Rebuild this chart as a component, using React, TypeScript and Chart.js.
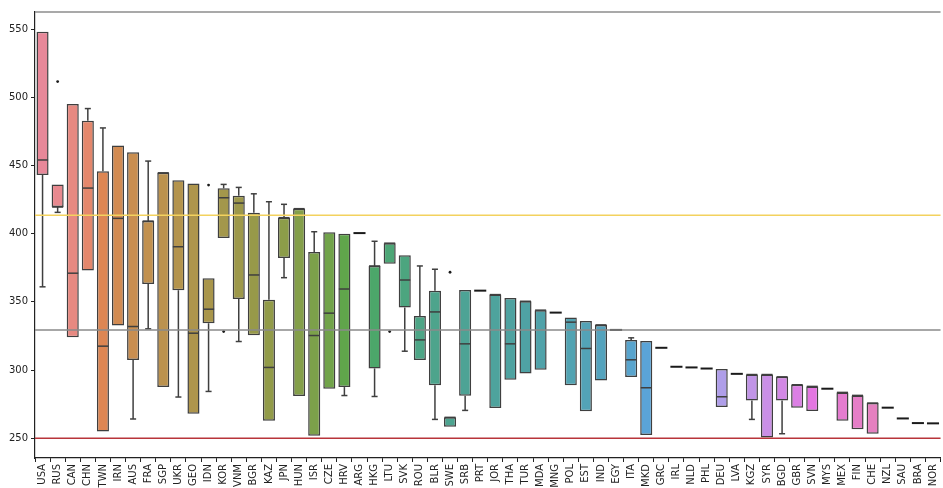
import React, { useEffect, useRef } from "react";
import { Chart, registerables } from "chart.js";

Chart.register(...registerables);

const categories = ["USA","RUS","CAN","CHN","TWN","IRN","AUS","FRA","SGP","UKR","GEO","IDN","KOR","VNM","BGR","KAZ","JPN","HUN","ISR","CZE","HRV","ARG","HKG","LTU","SVK","ROU","BLR","SWE","SRB","PRT","JOR","THA","TUR","MDA","MNG","POL","EST","IND","EGY","ITA","MKD","GRC","IRL","NLD","PHL","DEU","LVA","KGZ","SYR","BGD","GBR","SVN","MYS","MEX","FIN","CHE","NZL","SAU","BRA","NOR"];

const whiskerLow = [361,415.6,324,373,255,332.6,264.1,330.2,287.5,280.2,268,284.3,396.8,320.9,325.5,262.8,367.7,280.9,251.9,286.3,281.3,400.4,280.6,378,313.8,307.3,263.8,258.4,270.4,358.2,272.1,292.8,297.5,300.2,342.1,288.9,269.7,292.3,329.4,294.8,252.4,316.3,302.4,301.9,301.1,272.9,297.2,263.8,250.6,253.3,272.4,270,286.3,262.8,256.6,253.3,272.4,264.5,261.1,260.9];
const q1 = [443,419.5,324,373,255,332.6,307.3,363.1,287.5,358.5,268,334.3,396.8,352.1,325.5,262.8,382.1,280.9,251.9,286.3,287.5,400.4,301.2,378,345.8,307.3,288.9,258.4,281.1,358.2,272.1,292.8,297.5,300.2,342.1,288.9,269.7,292.3,329.4,294.8,252.4,316.3,302.4,301.9,301.1,272.9,297.2,277.7,250.6,277.7,272.4,270,286.3,262.8,256.6,253.3,272.4,264.5,261.1,260.9];
const medians = [454,419.5,371,433.4,317.5,411.2,331.9,409.2,444.6,390.4,327,344.6,426.3,422.4,369.7,301.9,411.7,418.3,325.3,341.7,359.4,400.4,376.3,393,366,322.1,342.6,265.3,319.2,358.2,355.3,319.2,350.4,343.9,342.1,335.1,315.8,333.1,329.4,307.5,287,316.3,302.4,301.9,301.1,280.4,297.2,296.7,296.7,295,289.2,288,286.3,283.6,281.4,275.8,272.4,264.5,261.1,260.9];
const q3 = [548,436,495,482.7,445.8,464.6,459.7,409.2,444.6,439.2,436.8,367.3,433.2,427.8,415.3,351.6,411.7,418.3,386.5,401,399.9,400.4,376.3,393,384.1,339.7,358.2,265.3,358.7,358.2,355.3,352.9,350.4,343.9,342.1,338.5,336,333.1,329.4,322.1,321.2,316.3,302.4,301.9,301.1,300.7,297.2,296.7,296.7,295,289.2,288,286.3,283.6,281.4,275.8,272.4,264.5,261.1,260.9];
const whiskerHigh = [548,436,495,491.7,477.5,464.6,459.7,453.2,444.6,439.2,436.8,367.3,436.1,433.9,429.2,423.4,421.5,418.3,401.4,401,399.9,400.4,394.4,393,384.1,376.3,373.9,265.3,358.7,358.2,355.3,352.9,350.4,343.9,342.1,338.5,336,333.1,329.4,323.6,321.2,316.3,302.4,301.9,301.1,300.7,297.2,296.7,296.7,295,289.2,288,286.3,283.6,281.4,275.8,272.4,264.5,261.1,260.9];

const outlierCategories = ["RUS","IDN","KOR","LTU","SWE"];
const outlierValues = [511.5,435.6,328.2,328.2,371.7];

const refValues = [413.5, 329.3, 250];
const refColors = ["#f3d25e", "#8a8a8a", "#b8343a"];

const yTicks = [250, 300, 350, 400, 450, 500, 550];

// ---- HUSL palette (seaborn husl_palette) ----
const M = [
  [3.240969941904521, -1.537383177570093, -0.498610760293],
  [-0.96924363628087, 1.87596750150772, 0.041555057407175],
  [0.055630079696993, -0.20397695888897, 1.056971514242878],
];
const refU = 0.19783000664283;
const refV = 0.46831999493879;
const kappa = 903.2962962;
const epsilon = 0.0088564516;

function getBounds(L: number) {
  const sub1 = Math.pow(L + 16, 3) / 1560896;
  const sub2 = sub1 > epsilon ? sub1 : L / kappa;
  const ret: number[][] = [];
  for (let c = 0; c < 3; c++) {
    const [m1, m2, m3] = M[c];
    for (let t = 0; t < 2; t++) {
      const top1 = (284517 * m1 - 94839 * m3) * sub2;
      const top2 = (838422 * m3 + 769860 * m2 + 731718 * m1) * L * sub2 - 769860 * t * L;
      const bottom = (632260 * m3 - 126452 * m2) * sub2 + 126452 * t;
      ret.push([top1 / bottom, top2 / bottom]);
    }
  }
  return ret;
}
function maxChroma(L: number, H: number) {
  const hr = (H / 360) * Math.PI * 2;
  let min = Infinity;
  for (const [m1, b1] of getBounds(L)) {
    const len = b1 / (Math.sin(hr) - m1 * Math.cos(hr));
    if (len >= 0 && len < min) min = len;
  }
  return min;
}
function fromLinear(c: number) {
  return c <= 0.0031308 ? 12.92 * c : 1.055 * Math.pow(c, 1 / 2.4) - 0.055;
}
function huslToRgb(H: number, S: number, L: number): number[] {
  const C = (maxChroma(L, H) / 100) * S;
  const hr = (H / 360) * Math.PI * 2;
  const U = C * Math.cos(hr);
  const V = C * Math.sin(hr);
  const varY = L > 8 ? Math.pow((L + 16) / 116, 3) : L / kappa;
  const varU = U / (13 * L) + refU;
  const varV = V / (13 * L) + refV;
  const Y = varY;
  const X = 0 - (9 * Y * varU) / ((varU - 4) * varV - varU * varV);
  const Z = (9 * Y - 15 * varV * Y - varV * X) / (3 * varV);
  return M.map((r) => Math.min(1, Math.max(0, fromLinear(r[0] * X + r[1] * Y + r[2] * Z))));
}
function rgbToHls(r: number, g: number, b: number) {
  const mx = Math.max(r, g, b), mn = Math.min(r, g, b);
  const l = (mx + mn) / 2;
  if (mx === mn) return [0, l, 0];
  const s = l <= 0.5 ? (mx - mn) / (mx + mn) : (mx - mn) / (2 - mx - mn);
  const rc = (mx - r) / (mx - mn), gc = (mx - g) / (mx - mn), bc = (mx - b) / (mx - mn);
  let h = r === mx ? bc - gc : g === mx ? 2 + rc - bc : 4 + gc - rc;
  h = ((h / 6) % 1 + 1) % 1;
  return [h, l, s];
}
function v(m1: number, m2: number, hue: number) {
  hue = ((hue % 1) + 1) % 1;
  if (hue < 1 / 6) return m1 + (m2 - m1) * hue * 6;
  if (hue < 0.5) return m2;
  if (hue < 2 / 3) return m1 + (m2 - m1) * (2 / 3 - hue) * 6;
  return m1;
}
function hlsToRgb(h: number, l: number, s: number) {
  if (s === 0) return [l, l, l];
  const m2 = l <= 0.5 ? l * (1 + s) : l + s - l * s;
  const m1 = 2 * l - m2;
  return [v(m1, m2, h + 1 / 3), v(m1, m2, h), v(m1, m2, h - 1 / 3)];
}
function toHex(c: number[]) {
  return "#" + c.map((x) => Math.round(x * 255).toString(16).padStart(2, "0")).join("");
}
const n = categories.length;
const rawPalette = categories.map((_, i) => huslToRgb(((i / n + 0.01) % 1) * 359, 0.9 * 99, 0.65 * 99));
const lum = Math.min(...rawPalette.map((c) => rgbToHls(c[0], c[1], c[2])[1])) * 0.6;
const edgeColor = toHex([lum, lum, lum]);
const fillColors = rawPalette.map((c) => {
  const [h, l, s] = rgbToHls(c[0], c[1], c[2]);
  const d = hlsToRgb(h, l, s * 0.75);
  return toHex(d.map((x) => x * 0.95 + 0.05));
});

const FONT = "'DejaVu Sans', sans-serif";

const boxPlugin = {
  id: "boxExtras",
  afterDatasetsDraw(chart: any) {
    const { ctx, chartArea } = chart;
    const xs = chart.scales.x;
    const ys = chart.scales.y;
    const meta = chart.getDatasetMeta(0);
    ctx.save();
    ctx.strokeStyle = edgeColor;
    ctx.lineWidth = 1.5;
    ctx.lineCap = "butt";
    for (let i = 0; i < n; i++) {
      const x = xs.getPixelForValue(i);
      const w = meta.data[i] ? meta.data[i].width : 12;
      const line = (x1: number, y1: number, x2: number, y2: number) => {
        ctx.beginPath();
        ctx.moveTo(x1, y1);
        ctx.lineTo(x2, y2);
        ctx.stroke();
      };
      if (whiskerHigh[i] > q3[i]) {
        const yt = ys.getPixelForValue(whiskerHigh[i]);
        line(x, ys.getPixelForValue(q3[i]), x, yt);
        line(x - w / 4, yt, x + w / 4, yt);
      }
      if (whiskerLow[i] < q1[i]) {
        const yb = ys.getPixelForValue(whiskerLow[i]);
        line(x, ys.getPixelForValue(q1[i]), x, yb);
        line(x - w / 4, yb, x + w / 4, yb);
      }
      const ym = ys.getPixelForValue(medians[i]);
      if (q3[i] === q1[i]) {
        ctx.save();
        ctx.strokeStyle = "#1a1a1a";
        ctx.lineWidth = 2;
        line(x - w / 2, ym, x + w / 2, ym);
        ctx.restore();
      } else {
        line(x - w / 2 + 0.5, ym, x + w / 2 - 0.5, ym);
      }
    }
    ctx.fillStyle = "#1a1a1a";
    outlierCategories.forEach((c, k) => {
      const i = categories.indexOf(c);
      const x = xs.getPixelForValue(i);
      const y = ys.getPixelForValue(outlierValues[k]);
      ctx.beginPath();
      ctx.arc(x, y, 1.4, 0, Math.PI * 2);
      ctx.fill();
    });
    // reference lines
    ctx.lineWidth = 1.5;
    refValues.forEach((val, k) => {
      const y = ys.getPixelForValue(val);
      ctx.strokeStyle = refColors[k];
      ctx.beginPath();
      ctx.moveTo(chartArea.left, y);
      ctx.lineTo(chartArea.right, y);
      ctx.stroke();
    });
    // top spine
    ctx.strokeStyle = "#8c8c8c";
    ctx.lineWidth = 1.5;
    ctx.beginPath();
    ctx.moveTo(chartArea.left, chartArea.top);
    ctx.lineTo(chartArea.right, chartArea.top);
    ctx.stroke();
    ctx.restore();
  },
};

export default function App() {
  const ref = useRef<HTMLCanvasElement | null>(null);
  useEffect(() => {
    document.body.style.margin = "0";
    document.body.style.overflow = "hidden";
    if (!ref.current) return;
    const chart = new Chart(ref.current, {
      type: "bar",
      data: {
        labels: categories,
        datasets: [
          {
            data: categories.map((_, i) => [q1[i], q3[i]]) as any,
            backgroundColor: fillColors,
            borderColor: edgeColor,
            borderWidth: 1.5,
            borderSkipped: false,
            barPercentage: 1,
            categoryPercentage: 0.8,
          },
        ],
      },
      options: {
        responsive: false,
        animation: false,
        layout: { padding: { top: 12, left: 0, right: 0, bottom: 0 } },
        plugins: { legend: { display: false }, tooltip: { enabled: false } },
        scales: {
          x: {
            type: "category",
            offset: true,
            afterFit: (s: any) => { s.height = 30; },
            grid: { drawOnChartArea: false, tickLength: 4, tickColor: "#222", tickWidth: 1 },
            border: { display: true, color: "#222", width: 1.2 },
            ticks: {
              autoSkip: false,
              maxRotation: 90,
              minRotation: 90,
              padding: 2,
              color: "#222",
              font: { family: FONT, size: 10 },
            },
          },
          y: {
            type: "linear",
            min: 235.5,
            max: 562.5,
            afterFit: (s: any) => { s.width = 35; },
            afterBuildTicks: (s: any) => { s.ticks = yTicks.map((t) => ({ value: t })); },
            grid: { drawOnChartArea: false, tickLength: 4, tickColor: "#222", tickWidth: 1 },
            border: { display: true, color: "#222", width: 1.2 },
            ticks: {
              padding: 3,
              color: "#222",
              font: { family: FONT, size: 10 },
            },
          },
        },
      },
      plugins: [boxPlugin],
    });
    return () => chart.destroy();
  }, []);
  return (
    <div style={{ position: "fixed", left: 0, top: 0, width: 943, height: 488, overflow: "hidden", background: "#fff" }}>
      <canvas ref={ref} width={947} height={488} style={{ width: 947, height: 488, display: "block" }} />
    </div>
  );
}
